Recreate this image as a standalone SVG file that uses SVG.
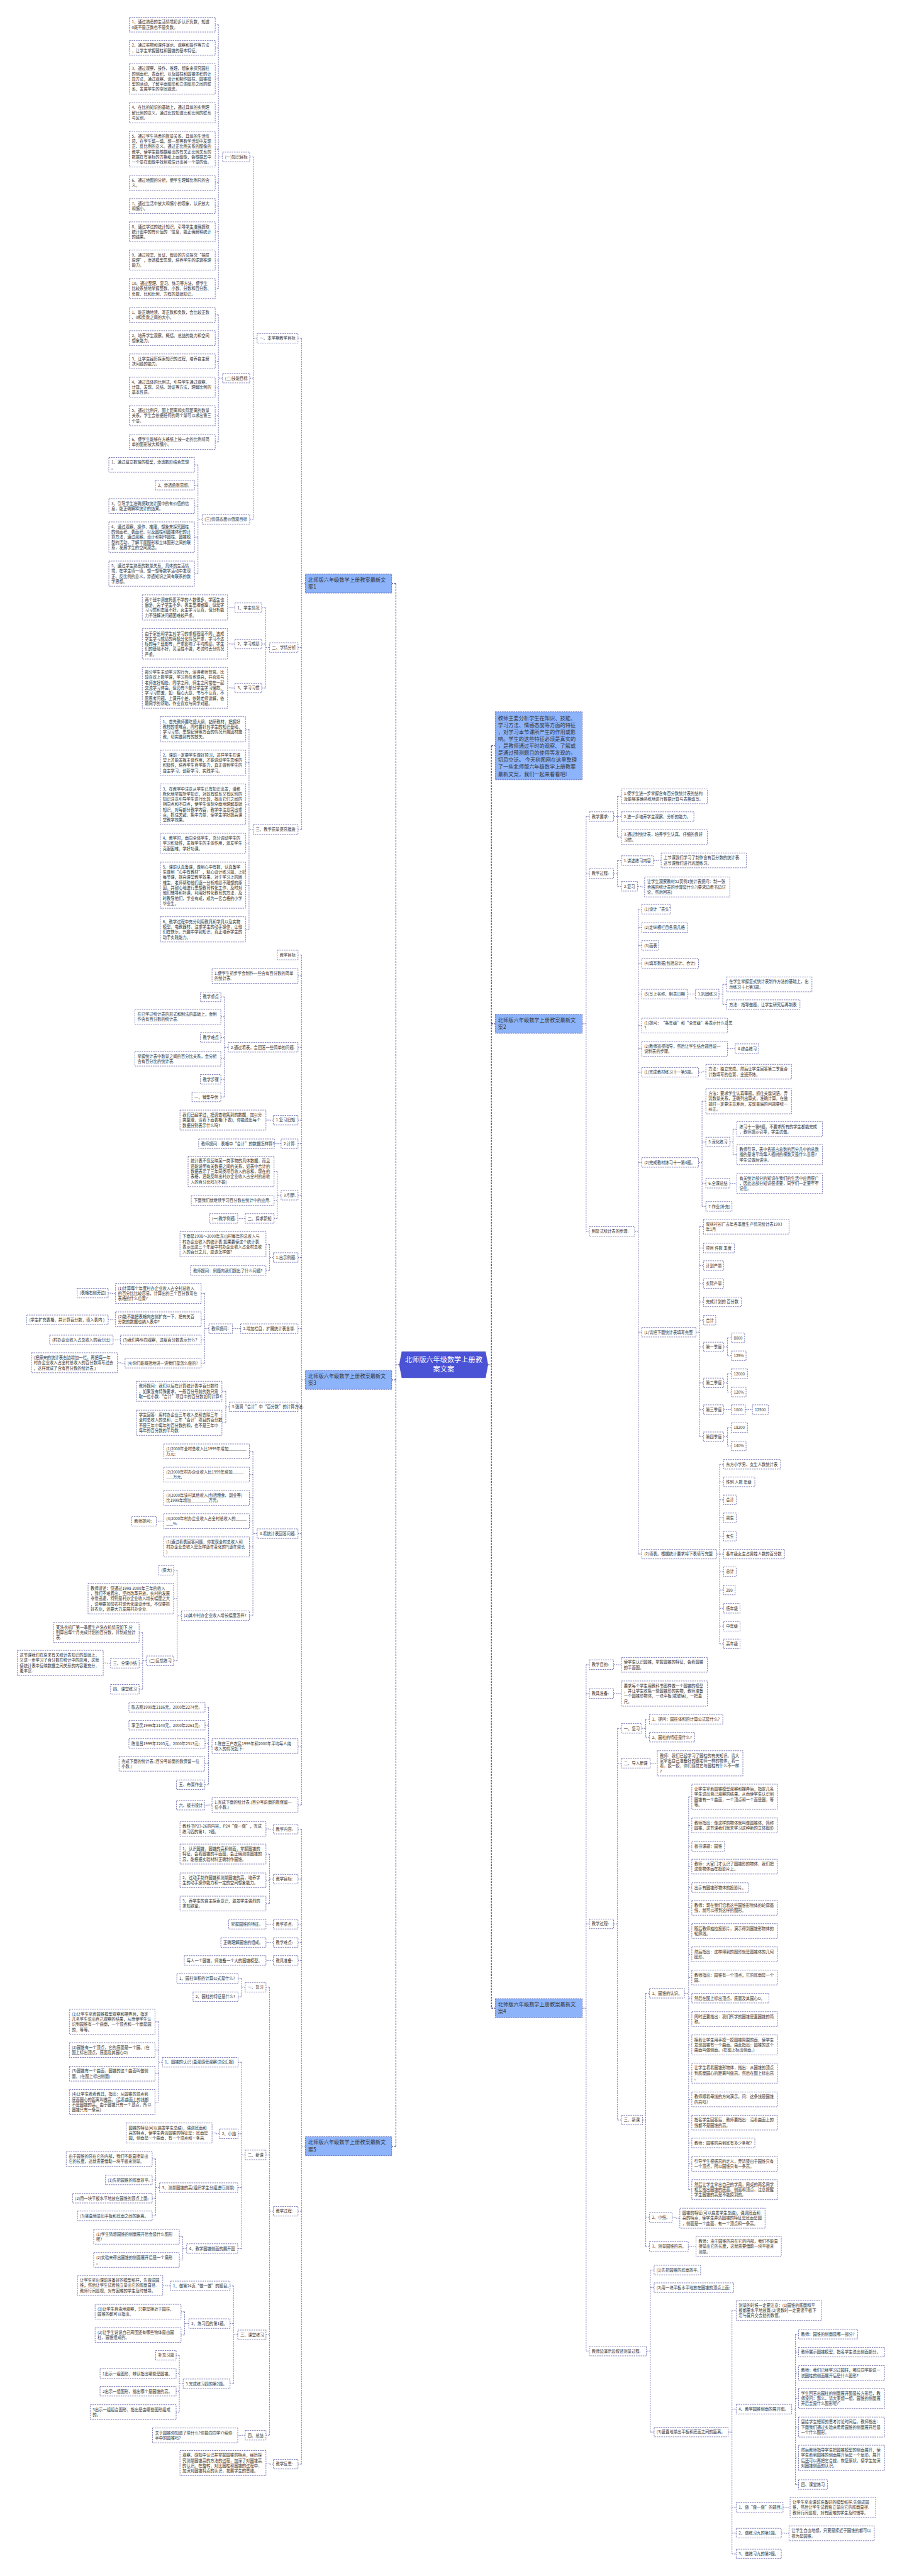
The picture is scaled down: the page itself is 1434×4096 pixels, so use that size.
<svg xmlns="http://www.w3.org/2000/svg" width="1434" height="4096" viewBox="0 0 1434 4096">
<style>
.b{fill:#fff;stroke:#3f3f93;stroke-width:1.2;stroke-dasharray:4 2.5}
.m{fill:#8db4fa;stroke:#3f3f93;stroke-width:1.2;stroke-dasharray:4 2.5}
.t{font-family:"Noto Sans CJK SC","Noto Sans",sans-serif;font-size:11.3px;fill:#333}
.tm{font-family:"Noto Sans CJK SC","Noto Sans",sans-serif;font-size:14.7px;fill:#333}
.tc{font-family:"Noto Sans CJK SC","Noto Sans",sans-serif;font-size:20px;fill:#fff;text-anchor:middle}
.e{fill:none;stroke:#3f3f93;stroke-width:1.2;stroke-dasharray:4 2.5}
.e2{fill:none;stroke:#2e2e80;stroke-width:2;stroke-dasharray:5 3}
</style>
<rect width="1434" height="4096" fill="#fff"/>
<g transform="scale(0.56)">
<g id="connectors">
<path class="e2" d="M1134,3875H1124M1124,1657V6094M1124,1657H1112M1124,3918H1112M1124,6094H1112"/>
<path class="e2" d="M1385,3875H1395M1395,2117.5V5702M1395,2117.5H1406M1395,2907H1406M1395,5702H1406"/>
<path class="e" d="M867,1657H856M856,960.6V2355.6M856,960.6H846M856,1838.6H846M856,2355.6H846"/>
<path class="e" d="M730,960.6H719M719,445.6V1474.6M719,445.6H709M719,1073.6H709M719,1474.6H709"/>
<path class="e" d="M632,445.6H620M620,70V819.4M620,70H611M620,136H611M620,224.2H611M620,320.4H611M620,423.6H611M620,519H611M620,585H611M620,658.4H611M620,738.4H611M620,819.4H611"/>
<path class="e" d="M632,1073.6H620M620,894V1255M620,894H611M620,960H611M620,1026H611M620,1099.4H611M620,1180.4H611M620,1255H611"/>
<path class="e" d="M574,1474.6H562M562,1320V1628.8M562,1320H552M562,1377.6H552M562,1437H552M562,1525.2H552M562,1628.8H552"/>
<path class="e" d="M765,1838.6H754M754,1725.6V1953.6M754,1725.6H743M754,1828.6H743M754,1953.6H743"/>
<path class="e" d="M667,1725.6H656V1724.8H646M667,1828.6H656V1828.2H646M667,1953.6H656V1953H646"/>
<path class="e" d="M719,2355.6H707M707,2070.8V2638.8M707,2070.8H697M707,2165.8H697M707,2284H697M707,2394.4H697M707,2513.4H697M707,2638.8H697"/>
<path class="e" d="M867,3918H856M856,2711.6V5125M856,2711.6H846M856,2771H846M856,2973.6H846M856,3180.6H846M856,3247.6H846M856,3393.6H846M856,3570.6H846M856,3772.6H846M856,3994.6H846M856,4354.6H846M856,4958H846M856,5125H846"/>
<path class="e" d="M648,2973.6H637M637,2830.6V3114.6M637,2830.6H627M637,2887H627M637,2945.6H627M637,3006H627M637,3064.6H627M637,3114.6H627"/>
<path class="e" d="M776,3180.6H765V3180.4H755M798,3247.6H779M696,3459.6H675M683,3772.6H660"/>
<path class="e" d="M798,3393.6H787M787,3326.2V3459.6M787,3326.2H778M787,3408.6H778M787,3459.6H778"/>
<path class="e" d="M776,3570.6H765M765,3532.8V3607.6M765,3532.8H755M765,3607.6H755"/>
<path class="e" d="M593,3772.6H581M581,3672.4V3870.6M581,3672.4H571M581,3746H571M581,3804.6H571M581,3870.6H571"/>
<path class="e" d="M328,3672.4H317V3671.6H307M328,3746H317V3747.6H307M342,3804.6H321M355,3870.6H344V3869.4H333"/>
<path class="e" d="M651,3994.6H641M641,3950.4V4039.8M641,3950.4H630M641,4039.8H630"/>
<path class="e" d="M730,4354.6H718M718,4121V4587.6M718,4121H708M718,4187H708M718,4253H708M718,4319H708M718,4392.4H708M718,4587.6H708"/>
<path class="e" d="M465,4319H455V4319.6H444"/>
<path class="e" d="M515,4587.6H503M503,4458.6V4715.6M503,4458.6H493M503,4539.2H493M503,4715.6H493"/>
<path class="e" d="M416,4715.6H405M405,4635.4V4796.6M405,4635.4H395M405,4722.6H395M405,4796.6H395"/>
<path class="e" d="M314,4722.6H303V4721.8H293"/>
<path class="e" d="M602,4958H592M592,4847.6V5067.6M592,4847.6H582M592,4898.6H582M592,4950.6H582M592,5008H581M592,5067.6H581M602,5125H592V5125.6H581"/>
<path class="e" d="M867,6094H856M856,5193.6V6996.6M856,5193.6H846M856,5335.6H846M856,5463.6H846M856,5515.6H846M856,5566.6H846M856,6278.6H846M856,6996.6H846"/>
<path class="e" d="M776,5193.6H765V5193H755M776,5463.6H755M776,5515.6H755M776,5566.6H755M776,6996.6H765V6993.8H755"/>
<path class="e" d="M776,5335.6H765M765,5264.4V5405M765,5264.4H755M765,5339H755M765,5405H755"/>
<path class="e" d="M776,6278.6H765M765,5642.6V6914.6M765,5642.6H755M765,6118.6H755M765,6629.6H755M765,6914.6H755"/>
<path class="e" d="M696,5642.6H686M686,5617.6V5669.6M686,5617.6H676M686,5669.6H676"/>
<path class="e" d="M696,6118.6H686M686,5855.6V6384.6M686,5855.6H676M686,6058.6H676M686,6211.6H675M686,6384.6H675"/>
<path class="e" d="M461,5855.6H451M451,5740.8V5968.8M451,5740.8H440M451,5821H440M451,5888H440M451,5968.8H440"/>
<path class="e" d="M623,6058.6H613V6056.4H602"/>
<path class="e" d="M453,6211.6H442M442,6130V6291.6M442,6130H432M442,6189.6H432M442,6241.6H432M442,6291.6H432"/>
<path class="e" d="M530,6384.6H519M519,6351V6417M519,6351H509M519,6417H509"/>
<path class="e" d="M675,6629.6H663M663,6490.6V6768.6M663,6490.6H653M663,6597.6H653M663,6768.6H653"/>
<path class="e" d="M484,6490.6H473V6489.4H462M696,6914.6H686V6915H675"/>
<path class="e" d="M536,6597.6H524M524,6564V6630M524,6564H514M524,6630H514"/>
<path class="e" d="M520,6768.6H509M509,6687.6V6849M509,6687.6H500M509,6739.6H500M509,6789.6H500M509,6849H500"/>
<path class="e" d="M1653,2907H1664M1664,2318.6V3496.6M1664,2318.6H1673M1664,2480.6H1673M1664,3496.6H1673"/>
<path class="e" d="M1742,2318.6H1753M1753,2261V2377M1753,2261H1764M1753,2318.6H1764M1753,2377H1764"/>
<path class="e" d="M1742,2480.6H1753M1753,2443.6V2516.6M1753,2443.6H1764M1753,2516.6H1764"/>
<path class="e" d="M1855,2443.6H1866V2443H1877M1810,2516.6H1820V2518.4H1830"/>
<path class="e" d="M1802,3496.6H1812M1812,2581.6V4412.6M1812,2581.6H1822M1812,2633.6H1822M1812,2684.6H1822M1812,2735.6H1822M1812,2822.6H1822M1812,2912H1822M1812,2978H1822M1812,3044.6H1822M1812,3300.6H1822M1812,3782.6H1822M1812,4412.6H1822"/>
<path class="e" d="M1952,2822.6H1974M2065,2978H2076V2977.6H2087M1983,3044.6H1993V3043H2004"/>
<path class="e" d="M2041,2822.6H2052M2052,2795V2852.6M2052,2795H2063M2052,2852.6H2063"/>
<path class="e" d="M1983,3300.6H1993M1993,3126.8V3425.6M1993,3126.8H2004M1993,3242.6H2004M1993,3359.6H2004M1993,3425.6H2004"/>
<path class="e" d="M2072,3242.6H2081M2081,3206V3278.4M2081,3206H2092M2081,3278.4H2092M2072,3359.6H2081V3360.4H2092"/>
<path class="e" d="M1976,3782.6H1986M1986,3483V4079.6M1986,3483H1997M1986,3543.6H1997M1986,3593.6H1997M1986,3644.6H1997M1986,3696.6H1997M1986,3748.6H1997M1986,3824.6H1997M1986,3926.6H1997M1986,4002.6H1997M1986,4079.6H1997"/>
<path class="e" d="M2054,3824.6H2065M2065,3798.6V3849.6M2065,3798.6H2076M2065,3849.6H2076M2054,3926.6H2065M2065,3900.6V3952.6M2065,3900.6H2076M2065,3952.6H2076M2054,4002.6H2076M2116,4002.6H2136M2054,4079.6H2065M2065,4053.6V4105.6M2065,4053.6H2076M2065,4105.6H2076"/>
<path class="e" d="M2034,4412.6H2043M2043,4157.6V4667.6M2043,4157.6H2054M2043,4207.6H2054M2043,4258.6H2054M2043,4309.6H2054M2043,4361.6H2054M2043,4412.6H2054M2043,4462.6H2054M2043,4514.6H2054M2043,4566.6H2054M2043,4617.6H2054M2043,4667.6H2054"/>
<path class="e" d="M1653,5702H1664M1664,4726.6V6675.6M1664,4726.6H1673M1664,4808.6H1673M1664,5462.6H1673M1664,6675.6H1673"/>
<path class="e" d="M1742,4726.6H1753V4727H1764M1742,4808.6H1753V4808.8H1764"/>
<path class="e" d="M1742,5462.6H1753M1753,4907.6V6019.6M1753,4907.6H1764M1753,5006.6H1764M1753,6019.6H1764"/>
<path class="e" d="M1822,4907.6H1833M1833,4881.6V4932.6M1833,4881.6H1844M1833,4932.6H1844M1846,5006.6H1856V5006.8H1866"/>
<path class="e" d="M1824,6019.6H1833M1833,5659.6V6378.6M1833,5659.6H1844M1833,6296.6H1844M1833,6378.6H1844"/>
<path class="e" d="M1943,5659.6H1955M1955,5101.8V6217.4M1955,5101.8H1964M1955,5183H1964M1955,5242.6H1964M1955,5300H1964M1955,5359.6H1964M1955,5417H1964M1955,5483H1964M1955,5549H1964M1955,5615H1964M1955,5673.6H1964M1955,5733H1964M1955,5806.4H1964M1955,5886.4H1964M1955,5961H1964M1955,6027H1964M1955,6084.6H1964M1955,6144H1964M1955,6217.4H1964"/>
<path class="e" d="M1908,6296.6H1919V6298.4H1930M1954,6378.6H1965V6378.4H1976"/>
<path class="e" d="M1835,6675.6H1846M1846,6445.6V6905.6M1846,6445.6H1857M1846,6495.6H1857M1846,6905.6H1857"/>
<path class="e" d="M2067,6905.6H2078M2078,6560.4V7251.6M2078,6560.4H2090M2078,6840.6H2090M2078,7119.6H2090M2078,7192.6H2090M2078,7251.6H2090"/>
<path class="e" d="M2247,6840.6H2258M2258,6627.6V7054.6M2258,6627.6H2267M2258,6678.6H2267M2258,6738H2267M2258,6810.4H2267M2258,6891.4H2267M2258,6978.8H2267M2258,7054.6H2267"/>
<path class="e" d="M2223,7119.6H2233V7119.4H2243M2218,7192.6H2229V7193H2240"/>
</g>

<g id="root"><polygon points="1134,3875 1141,3838 1378,3838 1385,3875 1378,3912 1141,3912" fill="#4a52d6" stroke="#3a40b8" stroke-width="1.2"/><text class="tc"><tspan x="1259.5" y="3868.4">北师版六年级数学上册教</tspan><tspan x="1259.5" y="3895.4">案文案</tspan></text></g>

<g id="A0"><rect class="m" x="867" y="1630" width="245" height="54"/><text class="tm"><tspan x="875" y="1651.3">北师版六年级数学上册教案最新文</tspan><tspan x="875" y="1671.3">案1</tspan></text></g>
<g id="A1"><rect class="b" x="730" y="947" width="116" height="27.2"/><text class="t" x="737" y="964.8">一、本学期教学目标</text></g>
<g id="A1a"><rect class="b" x="632" y="432" width="77" height="27.2"/><text class="t" x="639" y="449.8">(一)知识目标</text></g>
<g id="k1"><rect class="b" x="367" y="49" width="244" height="42"/><text class="t"><tspan x="374" y="66.8">1、通过熟悉的生活情境初步认识负数，知道</tspan><tspan x="374" y="81.6">0既不是正数也不是负数。</tspan></text></g>
<g id="k2"><rect class="b" x="367" y="115" width="244" height="42"/><text class="t"><tspan x="374" y="132.8">2、通过实物和课件演示、观察和操作等方法</tspan><tspan x="374" y="147.6">，让学生掌握圆柱和圆锥的基本特征。</tspan></text></g>
<g id="k3"><rect class="b" x="367" y="181" width="244" height="86.4"/><text class="t"><tspan x="374" y="198.8">3、通过观察、操作、推理、想象来探究圆柱</tspan><tspan x="374" y="213.6">的侧面积、表面积、以及圆柱和圆锥体积的计</tspan><tspan x="374" y="228.4">算方法，通过观察、设计和制作圆柱、圆锥模</tspan><tspan x="374" y="243.2">型的活动，了解平面图形和立体图形之间的联</tspan><tspan x="374" y="258">系，发展学生的空间观念。</tspan></text></g>
<g id="k4"><rect class="b" x="367" y="292" width="244" height="56.8"/><text class="t"><tspan x="374" y="309.8">4、在比的知识的基础上，通过具体的实例理</tspan><tspan x="374" y="324.6">解比例的意义。通过比较知道比和比例的联系</tspan><tspan x="374" y="339.4">与区别。</tspan></text></g>
<g id="k5"><rect class="b" x="367" y="373" width="244" height="101.2"/><text class="t"><tspan x="374" y="390.8">5、通过学生熟悉的数量关系、具体的生活情</tspan><tspan x="374" y="405.6">境，在学生填一填、想一想等数学活动中发现</tspan><tspan x="374" y="420.4">正、反比例的意义。通过正比例关系的图像的</tspan><tspan x="374" y="435.2">教学，使学生能根据给出的有关正比例关系的</tspan><tspan x="374" y="450">数据在有坐标的方格纸上画图像，会根据其中</tspan><tspan x="374" y="464.8">一个量在图像中找到或估计出另一个量的值。</tspan></text></g>
<g id="k6"><rect class="b" x="367" y="498" width="244" height="42"/><text class="t"><tspan x="374" y="515.8">6、通过地图的分析，使学生理解比例尺的含</tspan><tspan x="374" y="530.6">义。</tspan></text></g>
<g id="k7"><rect class="b" x="367" y="564" width="244" height="42"/><text class="t"><tspan x="374" y="581.8">7、通过生活中放大和缩小的现象，认识放大</tspan><tspan x="374" y="596.6">和缩小。</tspan></text></g>
<g id="k8"><rect class="b" x="367" y="630" width="244" height="56.8"/><text class="t"><tspan x="374" y="647.8">8、通过学过的统计知识，引导学生准确提取</tspan><tspan x="374" y="662.6">统计图中的有价值的‘信息，能正确解释统计</tspan><tspan x="374" y="677.4">的结果。</tspan></text></g>
<g id="k9"><rect class="b" x="367" y="710" width="244" height="56.8"/><text class="t"><tspan x="374" y="727.8">9、通过枚举、反证、假设的方法探究“抽屉</tspan><tspan x="374" y="742.6">原理”，渗透模型思想，培养学生的逻辑推理</tspan><tspan x="374" y="757.4">能力。</tspan></text></g>
<g id="k10"><rect class="b" x="367" y="791" width="244" height="56.8"/><text class="t"><tspan x="374" y="808.8">10、通过整理、复习、练习等方法，使学生</tspan><tspan x="374" y="823.6">比较系统地掌握整数、小数、分数和百分数、</tspan><tspan x="374" y="838.4">负数、比和比例、方程的基础知识。</tspan></text></g>
<g id="A1b"><rect class="b" x="632" y="1060" width="77" height="27.2"/><text class="t" x="639" y="1077.8">(二)技能目标</text></g>
<g id="s1"><rect class="b" x="367" y="873" width="244" height="42"/><text class="t"><tspan x="374" y="890.8">1、能正确地读、写正数和负数，会比较正数</tspan><tspan x="374" y="905.6">、0和负数之间的大小。</tspan></text></g>
<g id="s2"><rect class="b" x="367" y="939" width="244" height="42"/><text class="t"><tspan x="374" y="956.8">2、培养学生观察、概括、总结的能力和空间</tspan><tspan x="374" y="971.6">想象能力。</tspan></text></g>
<g id="s3"><rect class="b" x="367" y="1005" width="244" height="42"/><text class="t"><tspan x="374" y="1022.8">3、让学生经历探索知识的过程，培养自主解</tspan><tspan x="374" y="1037.6">决问题的能力。</tspan></text></g>
<g id="s4"><rect class="b" x="367" y="1071" width="244" height="56.8"/><text class="t"><tspan x="374" y="1088.8">4、通过具体的比例式，引导学生通过观察、</tspan><tspan x="374" y="1103.6">计算、发现、总结、验证等方法，理解比例的</tspan><tspan x="374" y="1118.4">基本性质。</tspan></text></g>
<g id="s5"><rect class="b" x="367" y="1152" width="244" height="56.8"/><text class="t"><tspan x="374" y="1169.8">5、通过比例尺、图上距离和实际距离的数量</tspan><tspan x="374" y="1184.6">关系，学生会依据任何的两个量可以求出第三</tspan><tspan x="374" y="1199.4">个量。</tspan></text></g>
<g id="s6"><rect class="b" x="367" y="1234" width="244" height="42"/><text class="t"><tspan x="374" y="1251.8">6、使学生能够在方格纸上按一定的比例将简</tspan><tspan x="374" y="1266.6">单的图形放大和缩小。</tspan></text></g>
<g id="A1c"><rect class="b" x="574" y="1461" width="135" height="27.2"/><text class="t" x="581" y="1478.8">(三)情感态度价值观目标</text></g>
<g id="e1"><rect class="b" x="309" y="1299" width="243" height="42"/><text class="t"><tspan x="316" y="1316.8">1、通过建立数轴的模型，渗透数形结合思想</tspan><tspan x="316" y="1331.6">。</tspan></text></g>
<g id="e2"><rect class="b" x="441" y="1364" width="111" height="27.2"/><text class="t" x="448" y="1381.8">2、渗透函数思想。</text></g>
<g id="e3"><rect class="b" x="309" y="1416" width="243" height="42"/><text class="t"><tspan x="316" y="1433.8">3、引导学生准确提取统计图中的有价值的信</tspan><tspan x="316" y="1448.6">息，能正确解释统计的结果。</tspan></text></g>
<g id="e4"><rect class="b" x="309" y="1482" width="243" height="86.4"/><text class="t"><tspan x="316" y="1499.8">4、通过观察、操作、推理、想象来探究圆柱</tspan><tspan x="316" y="1514.6">的侧面积、表面积、以及圆柱和圆锥体积的计</tspan><tspan x="316" y="1529.4">算方法，通过观察、设计和制作圆柱、圆锥模</tspan><tspan x="316" y="1544.2">型的活动，了解平面图形和立体图形之间的联</tspan><tspan x="316" y="1559">系，发展学生的空间观念。</tspan></text></g>
<g id="e5"><rect class="b" x="309" y="1593" width="243" height="71.6"/><text class="t"><tspan x="316" y="1610.8">5、通过学生熟悉的数量关系、具体的生活情</tspan><tspan x="316" y="1625.6">境，在学生填一填、想一想等数学活动中发现</tspan><tspan x="316" y="1640.4">正、反比例的意义，渗透知识之间有联系的数</tspan><tspan x="316" y="1655.2">学思想。</tspan></text></g>
<g id="A2"><rect class="b" x="765" y="1825" width="81" height="27.2"/><text class="t" x="772" y="1842.8">二、学情分析</text></g>
<g id="A2a"><rect class="b" x="667" y="1712" width="76" height="27.2"/><text class="t" x="674" y="1729.8">1、学生情况</text></g>
<g id="A2a1"><rect class="b" x="404" y="1689" width="242" height="71.6"/><text class="t"><tspan x="411" y="1706.8">两个班中调皮捣蛋不学的人数很多，学困生也</tspan><tspan x="411" y="1721.6">偏多，尖子学生不多。男生思维敏捷，但是学</tspan><tspan x="411" y="1736.4">习习惯和态度不好。女生学习认真，但分析能</tspan><tspan x="411" y="1751.2">力不强解决问题困难较严重。</tspan></text></g>
<g id="A2b"><rect class="b" x="667" y="1815" width="76" height="27.2"/><text class="t" x="674" y="1832.8">2、学习成绩</text></g>
<g id="A2b1"><rect class="b" x="404" y="1785" width="242" height="86.4"/><text class="t"><tspan x="411" y="1802.8">由于家长和学生对学习的重视程度不同，造成</tspan><tspan x="411" y="1817.6">学生学习成绩的两极分化情况严重，学习不达</tspan><tspan x="411" y="1832.4">标的每个班都有，严重影响了平均成绩。学生</tspan><tspan x="411" y="1847.2">们的基础不好，灵活性不强，考试时丢分情况</tspan><tspan x="411" y="1862">严重。</tspan></text></g>
<g id="A2c"><rect class="b" x="667" y="1940" width="76" height="27.2"/><text class="t" x="674" y="1957.8">3、学习习惯</text></g>
<g id="A2c1"><rect class="b" x="404" y="1895" width="242" height="116"/><text class="t"><tspan x="411" y="1912.8">部分学生主动学习的行为，深得老师赞赏。比</tspan><tspan x="411" y="1927.6">较喜欢上数学课，学习热情也很高，并喜欢与</tspan><tspan x="411" y="1942.4">老师友好相处，同学之间、师生之间常在一起</tspan><tspan x="411" y="1957.2">交流学习体会。但仍有少部分学生学习懒散、</tspan><tspan x="411" y="1972">学习习惯差，如：粗心大意、书写不认真，不</tspan><tspan x="411" y="1986.8">愿思考问题，上课开小差，依赖老师讲解，依</tspan><tspan x="411" y="2001.6">赖同学的帮助，作业喜欢与同学对题。</tspan></text></g>
<g id="A3"><rect class="b" x="719" y="2342" width="127" height="27.2"/><text class="t" x="726" y="2359.8">三、教学质量提高措施</text></g>
<g id="q1"><rect class="b" x="455" y="2035" width="242" height="71.6"/><text class="t"><tspan x="462" y="2052.8">1、首先教师要吃透大纲，钻研教材，把握好</tspan><tspan x="462" y="2067.6">教材的重难点，同时要针对学生的知识基础、</tspan><tspan x="462" y="2082.4">学习习惯、思想纪律等方面的情况开展因材施</tspan><tspan x="462" y="2097.2">教，切实做到有的放矢。</tspan></text></g>
<g id="q2"><rect class="b" x="455" y="2130" width="242" height="71.6"/><text class="t"><tspan x="462" y="2147.8">2、课前一定要学生做好预习，这样学生在课</tspan><tspan x="462" y="2162.6">堂上才能发挥主体作用，才能调动学生思维的</tspan><tspan x="462" y="2177.4">积极性，培养学生自学能力，真正做到学生的</tspan><tspan x="462" y="2192.2">自主学习、创新学习、实践学习。</tspan></text></g>
<g id="q3"><rect class="b" x="455" y="2226" width="242" height="116"/><text class="t"><tspan x="462" y="2243.8">3、在教学中注意从学生已有知识出发，潜移</tspan><tspan x="462" y="2258.6">默化地掌握所学知识，对既有联系又有区别的</tspan><tspan x="462" y="2273.4">知识注意引导学生进行比较，找出它们之间的</tspan><tspan x="462" y="2288.2">相同点和不同点，使学生深刻全面地理解基础</tspan><tspan x="462" y="2303">知识，对每部分教学内容，教学中注意突出重</tspan><tspan x="462" y="2317.8">点，抓住关键，集中力量，使学生学好提高课</tspan><tspan x="462" y="2332.6">堂教学效果。</tspan></text></g>
<g id="q4"><rect class="b" x="455" y="2366" width="242" height="56.8"/><text class="t"><tspan x="462" y="2383.8">4、教学时，面向全体学生，充分调动学生的</tspan><tspan x="462" y="2398.6">学习积极性，发挥学生的主体作用，激发学生</tspan><tspan x="462" y="2413.4">克服困难，学好功课。</tspan></text></g>
<g id="q5"><rect class="b" x="455" y="2448" width="242" height="130.8"/><text class="t"><tspan x="462" y="2465.8">5、课前认真备课，做到心中有数，认真备学</tspan><tspan x="462" y="2480.6">生做到“心中有教材”，精心设计练习题，上好</tspan><tspan x="462" y="2495.4">每节课，提高课堂教学效果。对于学习上的困</tspan><tspan x="462" y="2510.2">难生，老师帮助他们逐一分析成绩不理想的原</tspan><tspan x="462" y="2525">因，并耐心地进行思想教育转化工作，及时对</tspan><tspan x="462" y="2539.8">他们辅导和补课，利用好转化教育的方法，及</tspan><tspan x="462" y="2554.6">时教导他们，学业有成，成为一名合格的小学</tspan><tspan x="462" y="2569.4">毕业生。</tspan></text></g>
<g id="q6"><rect class="b" x="455" y="2603" width="242" height="71.6"/><text class="t"><tspan x="462" y="2620.8">6、教学过程中充分利用教具和学具以及实物</tspan><tspan x="462" y="2635.6">模型、电教器材，注重学生的动手操作，让他</tspan><tspan x="462" y="2650.4">们在快乐、兴趣中学到知识，真正培养学生的</tspan><tspan x="462" y="2665.2">动手实践能力。</tspan></text></g>

<g id="B0"><rect class="m" x="867" y="3891" width="245" height="54"/><text class="tm"><tspan x="875" y="3912.3">北师版六年级数学上册教案最新文</tspan><tspan x="875" y="3932.3">案3</tspan></text></g>
<g id="B1"><rect class="b" x="787" y="2698" width="59" height="27.2"/><text class="t" x="794" y="2715.8">教学目标</text></g>
<g id="B2"><rect class="b" x="602" y="2750" width="244" height="42"/><text class="t"><tspan x="609" y="2767.8">1.使学生初步学会制作一些含有百分数的简单</tspan><tspan x="609" y="2782.6">的统计表.</tspan></text></g>
<g id="B3"><rect class="b" x="648" y="2960" width="198" height="27.2"/><text class="t" x="655" y="2977.8">2.通过看表，会回答一些简单的问题.</text></g>
<g id="B3a"><rect class="b" x="569" y="2817" width="58" height="27.2"/><text class="t" x="576" y="2834.8">教学重点</text></g>
<g id="B3b"><rect class="b" x="383" y="2866" width="244" height="42"/><text class="t"><tspan x="390" y="2883.8">在已学过统计表的形式和制法的基础上，会制</tspan><tspan x="390" y="2898.6">作含有百分数的统计表.</tspan></text></g>
<g id="B3c"><rect class="b" x="569" y="2932" width="58" height="27.2"/><text class="t" x="576" y="2949.8">教学难点</text></g>
<g id="B3d"><rect class="b" x="383" y="2985" width="244" height="42"/><text class="t"><tspan x="390" y="3002.8">掌握统计表中数量之间的百分比关系，会分析</tspan><tspan x="390" y="3017.6">含有百分比的统计表.</tspan></text></g>
<g id="B3e"><rect class="b" x="569" y="3051" width="58" height="27.2"/><text class="t" x="576" y="3068.8">教学步骤</text></g>
<g id="B3f"><rect class="b" x="545" y="3101" width="82" height="27.2"/><text class="t" x="552" y="3118.8">一、铺垫孕伏</text></g>
<g id="B4"><rect class="b" x="776" y="3167" width="70" height="27.2"/><text class="t" x="783" y="3184.8">1.复习旧知.</text></g>
<g id="B4a"><rect class="b" x="511" y="3152" width="244" height="56.8"/><text class="t"><tspan x="518" y="3169.8">我们已经学过，把调查收集到的数据，加以分</tspan><tspan x="518" y="3184.6">类整理，请看下面表格(下表)，你能说出每个</tspan><tspan x="518" y="3199.4">数据分别表示什么吗?</tspan></text></g>
<g id="B5"><rect class="b" x="798" y="3234" width="48" height="27.2"/><text class="t" x="805" y="3251.8">2.计算.</text></g>
<g id="B5a"><rect class="b" x="564" y="3234" width="215" height="27.2"/><text class="t" x="571" y="3251.8">教师提问：表格中“合计”的数据怎样算?</text></g>
<g id="B6"><rect class="b" x="798" y="3380" width="48" height="27.2"/><text class="t" x="805" y="3397.8">3.引新.</text></g>
<g id="B6a"><rect class="b" x="534" y="3283" width="244" height="86.4"/><text class="t"><tspan x="541" y="3300.8">统计表不仅反映某一类事物的具体数据，而且</tspan><tspan x="541" y="3315.6">还能说明有关数据之间的关系，如表中合计的</tspan><tspan x="541" y="3330.4">数据表示了三年同类项目收入的总和，现在的</tspan><tspan x="541" y="3345.2">表格，还能反映出村办企业收入占全村的总收</tspan><tspan x="541" y="3360">入的百分比吗?(不能)</tspan></text></g>
<g id="B6b"><rect class="b" x="543" y="3395" width="235" height="27.2"/><text class="t" x="550" y="3412.8">下面我们就继续学习百分数在统计中的应用.</text></g>
<g id="B6c"><rect class="b" x="696" y="3446" width="82" height="27.2"/><text class="t" x="703" y="3463.8">二、探求新知</text></g>
<g id="B6d"><rect class="b" x="595" y="3446" width="80" height="27.2"/><text class="t" x="602" y="3463.8">(一)教学例题.</text></g>
<g id="B7"><rect class="b" x="776" y="3557" width="70" height="27.2"/><text class="t" x="783" y="3574.8">1.出示例题.</text></g>
<g id="B7a"><rect class="b" x="511" y="3497" width="244" height="71.6"/><text class="t"><tspan x="518" y="3514.8">下面是1998～2000年东山村每年的总收入与</tspan><tspan x="518" y="3529.6">村办企业收入的统计表.如果要使这个统计表</tspan><tspan x="518" y="3544.4">表示出这三个年度中村办企业收入占全村总收</tspan><tspan x="518" y="3559.2">入的百分之几，应该怎样做?</tspan></text></g>
<g id="B7b"><rect class="b" x="541" y="3594" width="214" height="27.2"/><text class="t" x="548" y="3611.8">教师提问：例题向我们提出了什么问题?</text></g>
<g id="B8"><rect class="b" x="683" y="3759" width="163" height="27.2"/><text class="t" x="690" y="3776.8">2.增加栏目，扩展统计表含量.</text></g>
<g id="B8a"><rect class="b" x="593" y="3759" width="67" height="27.2"/><text class="t" x="600" y="3776.8">教师提问：</text></g>
<g id="B8b"><rect class="b" x="328" y="3644" width="243" height="56.8"/><text class="t"><tspan x="335" y="3661.8">(1)计算每个年度村办企业收入占全村总收入</tspan><tspan x="335" y="3676.6">的百分比比较容易，计算出的三个百分数写在</tspan><tspan x="335" y="3691.4">表格的什么位置?</tspan></text></g>
<g id="B8b1"><rect class="b" x="219" y="3658" width="88" height="27.2"/><text class="t" x="226" y="3675.8">(表格右侧旁边)</text></g>
<g id="B8c"><rect class="b" x="328" y="3725" width="243" height="42"/><text class="t"><tspan x="335" y="3742.8">(2)能不能把表格向右侧扩充一下，把有关百</tspan><tspan x="335" y="3757.6">分数的数据也纳入表中?</tspan></text></g>
<g id="B8c1"><rect class="b" x="76" y="3734" width="231" height="27.2"/><text class="t" x="83" y="3751.8">(学生扩充表格，并计算百分数，填入表内.)</text></g>
<g id="B8d"><rect class="b" x="342" y="3791" width="229" height="27.2"/><text class="t" x="349" y="3808.8">(3)我们再纵向观察，这组百分数表示什么?</text></g>
<g id="B8d1"><rect class="b" x="141" y="3791" width="180" height="27.2"/><text class="t" x="148" y="3808.8">(村办企业收入占总收入的百分比)</text></g>
<g id="B8e"><rect class="b" x="355" y="3857" width="216" height="27.2"/><text class="t" x="362" y="3874.8">(4)你们能概括地讲一讲我们是怎么做的?</text></g>
<g id="B8e1"><rect class="b" x="89" y="3841" width="244" height="56.8"/><text class="t"><tspan x="96" y="3858.8">(把原来的统计表右边增加一栏，再把每一年</tspan><tspan x="96" y="3873.6">村办企业收入占全村总收入的百分数填写过去</tspan><tspan x="96" y="3888.4">，这样就成了含有百分数的统计表.)</tspan></text></g>
<g id="B9"><rect class="b" x="651" y="3981" width="195" height="27.2"/><text class="t" x="658" y="3998.8">3.强调“合计”中“百分数”的计算方法.</text></g>
<g id="B9a"><rect class="b" x="387" y="3922" width="243" height="56.8"/><text class="t"><tspan x="394" y="3939.8">教师提问：我们以后在计算统计表中百分数时</tspan><tspan x="394" y="3954.6">，如果没有特殊要求，一般百分号前的数只需</tspan><tspan x="394" y="3969.4">取一位小数.“合计”项目中的百分数如何计算?</tspan></text></g>
<g id="B9b"><rect class="b" x="387" y="4004" width="243" height="71.6"/><text class="t"><tspan x="394" y="4021.8">学生回答：用村办企业三年收入总和去除三年</tspan><tspan x="394" y="4036.6">全村总收入的总和，三年“合计”项目的百分数</tspan><tspan x="394" y="4051.4">不是三年中每年的百分数的和，也不是三年中</tspan><tspan x="394" y="4066.2">每年的百分数的平均数.</tspan></text></g>
<g id="B10"><rect class="b" x="730" y="4341" width="116" height="27.2"/><text class="t" x="737" y="4358.8">4.看统计表回答问题.</text></g>
<g id="B10a"><rect class="b" x="465" y="4100" width="243" height="42"/><text class="t"><tspan x="472" y="4117.8">(1)2000年全村总收入比1999年增加________</tspan><tspan x="472" y="4132.6">万元;</tspan></text></g>
<g id="B10b"><rect class="b" x="465" y="4166" width="243" height="42"/><text class="t"><tspan x="472" y="4183.8">(2)2000年村办企业收入比1999年增加_____</tspan><tspan x="472" y="4198.6">___万元;</tspan></text></g>
<g id="B10c"><rect class="b" x="465" y="4232" width="243" height="42"/><text class="t"><tspan x="472" y="4249.8">(3)2000年该村其他收入(包括粮食、副业等)</tspan><tspan x="472" y="4264.6">比1999年增加________万元;</tspan></text></g>
<g id="B10d"><rect class="b" x="465" y="4298" width="243" height="42"/><text class="t"><tspan x="472" y="4315.8">(4)2000年村办企业收入占全村总收入的_____</tspan><tspan x="472" y="4330.6">___%.</tspan></text></g>
<g id="B10d1"><rect class="b" x="374" y="4306" width="70" height="27.2"/><text class="t" x="381" y="4323.8">教师提问：</text></g>
<g id="B10e"><rect class="b" x="465" y="4364" width="243" height="56.8"/><text class="t"><tspan x="472" y="4381.8">(1)通过看表回答问题，你发现全村总收入和</tspan><tspan x="472" y="4396.6">村办企业总收入是怎样逐年变化的?(逐年增长</tspan><tspan x="472" y="4411.4">)</tspan></text></g>
<g id="B10f"><rect class="b" x="515" y="4574" width="193" height="27.2"/><text class="t" x="522" y="4591.8">(2)其中村办企业收入增长幅度怎样?</text></g>
<g id="B10f1"><rect class="b" x="451" y="4445" width="42" height="27.2"/><text class="t" x="458" y="4462.8">(很大)</text></g>
<g id="B10f2"><rect class="b" x="250" y="4496" width="243" height="86.4"/><text class="t"><tspan x="257" y="4513.8">教师讲述：仅通过1998-2000年三年的收入</tspan><tspan x="257" y="4528.6">，我们不难看出，坚持改革开放，农村的发展</tspan><tspan x="257" y="4543.4">非常迅速，特别是村办企业收入增长幅度之大</tspan><tspan x="257" y="4558.2">，说明要加快农村现代化建设步伐，不仅要抓</tspan><tspan x="257" y="4573">好农业，还要大力发展村办企业.</tspan></text></g>
<g id="B10f3"><rect class="b" x="416" y="4702" width="77" height="27.2"/><text class="t" x="423" y="4719.8">(二)反馈练习</text></g>
<g id="B10g1"><rect class="b" x="152" y="4607" width="243" height="56.8"/><text class="t"><tspan x="159" y="4624.8">某洗衣机厂第一季度生产洗衣机情况如下.分</tspan><tspan x="159" y="4639.6">别算出每个月完成计划的百分数，并制成统计</tspan><tspan x="159" y="4654.4">表.</tspan></text></g>
<g id="B10g2"><rect class="b" x="314" y="4709" width="81" height="27.2"/><text class="t" x="321" y="4726.8">三、全课小结</text></g>
<g id="B10g2a"><rect class="b" x="49" y="4686" width="244" height="71.6"/><text class="t"><tspan x="56" y="4703.8">这节课我们在原来有关统计表知识的基础上，</tspan><tspan x="56" y="4718.6">又进一步学习了百分数在统计中的应用，这就</tspan><tspan x="56" y="4733.4">使统计表中反映数据之间关系的内容更充分，</tspan><tspan x="56" y="4748.2">更丰富.</tspan></text></g>
<g id="B10g3"><rect class="b" x="314" y="4783" width="81" height="27.2"/><text class="t" x="321" y="4800.8">四、课堂练习</text></g>
<g id="B11"><rect class="b" x="602" y="4937" width="244" height="42"/><text class="t"><tspan x="609" y="4954.8">1.陈庄三户农民1999年和2000年平均每人纯</tspan><tspan x="609" y="4969.6">收入的情况如下:</tspan></text></g>
<g id="B11a"><rect class="b" x="366" y="4834" width="216" height="27.2"/><text class="t" x="373" y="4851.8">陈志刚1999年2186元，2000年2274元;</text></g>
<g id="B11b"><rect class="b" x="366" y="4885" width="216" height="27.2"/><text class="t" x="373" y="4902.8">李卫民1999年2140元，2000年2261元;</text></g>
<g id="B11c"><rect class="b" x="366" y="4937" width="216" height="27.2"/><text class="t" x="373" y="4954.8">陈世昌1999年2205元，2000年2313元;</text></g>
<g id="B11d"><rect class="b" x="338" y="4987" width="243" height="42"/><text class="t"><tspan x="345" y="5004.8">完成下面的统计表.(百分号前面的数保留一位</tspan><tspan x="345" y="5019.6">小数.)</tspan></text></g>
<g id="B11e"><rect class="b" x="501" y="5054" width="80" height="27.2"/><text class="t" x="508" y="5071.8">五、布置作业</text></g>
<g id="B12"><rect class="b" x="602" y="5104" width="244" height="42"/><text class="t"><tspan x="609" y="5121.8">1.完成下面的统计表.(百分号前面的数保留一</tspan><tspan x="609" y="5136.6">位小数.)</tspan></text></g>
<g id="B12a"><rect class="b" x="501" y="5112" width="80" height="27.2"/><text class="t" x="508" y="5129.8">六、板书设计</text></g>

<g id="C0"><rect class="m" x="867" y="6067" width="245" height="54"/><text class="tm"><tspan x="875" y="6088.3">北师版六年级数学上册教案最新文</tspan><tspan x="875" y="6108.3">案5</tspan></text></g>
<g id="C1"><rect class="b" x="776" y="5180" width="70" height="27.2"/><text class="t" x="783" y="5197.8">教学内容:</text></g>
<g id="C1a"><rect class="b" x="511" y="5172" width="244" height="42"/><text class="t"><tspan x="518" y="5189.8">教科书P23-26的内容，P24“做一做”，完成</tspan><tspan x="518" y="5204.6">练习四的第1、2题。</tspan></text></g>
<g id="C2"><rect class="b" x="776" y="5322" width="70" height="27.2"/><text class="t" x="783" y="5339.8">教学目标:</text></g>
<g id="C2a"><rect class="b" x="511" y="5236" width="244" height="56.8"/><text class="t"><tspan x="518" y="5253.8">1、认识圆锥，圆锥的高和侧面，掌握圆锥的</tspan><tspan x="518" y="5268.6">特征，会看圆锥的平面图，会正确测量圆锥的</tspan><tspan x="518" y="5283.4">高，能根据实验材料正确制作圆锥。</tspan></text></g>
<g id="C2b"><rect class="b" x="511" y="5318" width="244" height="42"/><text class="t"><tspan x="518" y="5335.8">2、过动手制作圆锥和测量圆锥的高，培养学</tspan><tspan x="518" y="5350.6">生的动手操作能力和一定的空间想象能力。</tspan></text></g>
<g id="C2c"><rect class="b" x="511" y="5384" width="244" height="42"/><text class="t"><tspan x="518" y="5401.8">3、养学生的自主探索意识，激发学生强烈的</tspan><tspan x="518" y="5416.6">求知欲望。</tspan></text></g>
<g id="C3"><rect class="b" x="776" y="5450" width="70" height="27.2"/><text class="t" x="783" y="5467.8">教学重点:</text></g>
<g id="C3a"><rect class="b" x="649" y="5450" width="106" height="27.2"/><text class="t" x="656" y="5467.8">掌握圆锥的特征。</text></g>
<g id="C4"><rect class="b" x="776" y="5502" width="70" height="27.2"/><text class="t" x="783" y="5519.8">教学难点:</text></g>
<g id="C4a"><rect class="b" x="627" y="5502" width="128" height="27.2"/><text class="t" x="634" y="5519.8">正确理解圆锥的组成。</text></g>
<g id="C5"><rect class="b" x="776" y="5553" width="70" height="27.2"/><text class="t" x="783" y="5570.8">教具准备:</text></g>
<g id="C5a"><rect class="b" x="523" y="5553" width="232" height="27.2"/><text class="t" x="530" y="5570.8">每人一个圆锥，师准备一个大的圆锥模型。</text></g>
<g id="C6"><rect class="b" x="776" y="6265" width="70" height="27.2"/><text class="t" x="783" y="6282.8">教学过程:</text></g>
<g id="C6a"><rect class="b" x="696" y="5629" width="59" height="27.2"/><text class="t" x="703" y="5646.8">一、复习</text></g>
<g id="C6a1"><rect class="b" x="502" y="5604" width="174" height="27.2"/><text class="t" x="509" y="5621.8">1、圆柱体积的计算公式是什么?</text></g>
<g id="C6a2"><rect class="b" x="548" y="5656" width="128" height="27.2"/><text class="t" x="555" y="5673.8">2、圆柱的特征是什么?</text></g>
<g id="C6b"><rect class="b" x="696" y="6105" width="59" height="27.2"/><text class="t" x="703" y="6122.8">二、新课</text></g>
<g id="C6b1"><rect class="b" x="461" y="5842" width="215" height="27.2"/><text class="t" x="468" y="5859.8">1、圆锥的认识 (直观感受观察讨论汇报)</text></g>
<g id="C6b1a"><rect class="b" x="197" y="5705" width="243" height="71.6"/><text class="t"><tspan x="204" y="5722.8">(1)让学生拿着圆锥模型观察和摆弄后，指定</tspan><tspan x="204" y="5737.6">几名学生说出自己观察的结果，从而使学生认</tspan><tspan x="204" y="5752.4">识到圆锥有一个曲面，一个顶点和一个面是圆</tspan><tspan x="204" y="5767.2">的，等等。</tspan></text></g>
<g id="C6b1b"><rect class="b" x="197" y="5800" width="243" height="42"/><text class="t"><tspan x="204" y="5817.8">(2)圆锥有一个顶点，它的底面是一个圆、(在</tspan><tspan x="204" y="5832.6">图上标出顶点，底面及其圆心O)</tspan></text></g>
<g id="C6b1c"><rect class="b" x="197" y="5867" width="243" height="42"/><text class="t"><tspan x="204" y="5884.8">(3)圆锥有一个曲面，圆锥的这个曲面叫做侧</tspan><tspan x="204" y="5899.6">面。(在图上标出侧面)</tspan></text></g>
<g id="C6b1d"><rect class="b" x="197" y="5933" width="243" height="71.6"/><text class="t"><tspan x="204" y="5950.8">(4)让学生看着教具，指出：从圆锥的顶点到</tspan><tspan x="204" y="5965.6">底面圆心的距离叫做高。(沿着曲面上的线都</tspan><tspan x="204" y="5980.4">不是圆锥的高，由于圆锥只有一个顶点，所以</tspan><tspan x="204" y="5995.2">圆锥只有一条高)</tspan></text></g>
<g id="C6b2"><rect class="b" x="623" y="6045" width="53" height="27.2"/><text class="t" x="630" y="6062.8">2、小结</text></g>
<g id="C6b2a"><rect class="b" x="358" y="6028" width="244" height="56.8"/><text class="t"><tspan x="365" y="6045.8">圆锥的特征(可以启发学生总结)，强调底面和</tspan><tspan x="365" y="6060.6">高的特点，使学生弄清圆锥的特征是：底面是</tspan><tspan x="365" y="6075.4">圆，侧面是一个曲面，有一个顶点和一条高.</tspan></text></g>
<g id="C6b3"><rect class="b" x="453" y="6198" width="222" height="27.2"/><text class="t" x="460" y="6215.8">3、测量圆锥的高(组织学生分组进行测量)</text></g>
<g id="C6b3a"><rect class="b" x="188" y="6109" width="244" height="42"/><text class="t"><tspan x="195" y="6126.8">由于圆锥的高在它的内部，我们不能直接量出</tspan><tspan x="195" y="6141.6">它的长度，这就需要借助一块平板来测量。</tspan></text></g>
<g id="C6b3b"><rect class="b" x="299" y="6176" width="133" height="27.2"/><text class="t" x="306" y="6193.8">(1)先把圆锥的底面放平;</text></g>
<g id="C6b3c"><rect class="b" x="206" y="6228" width="226" height="27.2"/><text class="t" x="213" y="6245.8">(2)用一块平板水平地放在圆锥的顶点上面;</text></g>
<g id="C6b3d"><rect class="b" x="220" y="6278" width="212" height="27.2"/><text class="t" x="227" y="6295.8">(3)竖直地量出平板和底面之间的距离。</text></g>
<g id="C6b4"><rect class="b" x="530" y="6371" width="145" height="27.2"/><text class="t" x="537" y="6388.8">4、教学圆锥侧面的展开图</text></g>
<g id="C6b4a"><rect class="b" x="266" y="6330" width="243" height="42"/><text class="t"><tspan x="273" y="6347.8">(1)学生猜想圆锥的侧面展开后会是什么图形</tspan><tspan x="273" y="6362.6">呢?</tspan></text></g>
<g id="C6b4b"><rect class="b" x="266" y="6396" width="243" height="42"/><text class="t"><tspan x="273" y="6413.8">(2)实验来得出圆锥的侧面展开后是一个扇形</tspan><tspan x="273" y="6428.6">。</tspan></text></g>
<g id="C6c"><rect class="b" x="675" y="6616" width="80" height="27.2"/><text class="t" x="682" y="6633.8">三、课堂练习</text></g>
<g id="C6c1"><rect class="b" x="484" y="6477" width="169" height="27.2"/><text class="t" x="491" y="6494.8">1、做第24页“做一做”的题目。</text></g>
<g id="C6c1a"><rect class="b" x="220" y="6461" width="242" height="56.8"/><text class="t"><tspan x="227" y="6478.8">让学生拿出课前准备好的模型纸样，先做成圆</tspan><tspan x="227" y="6493.6">锥，然后让学生试着独立量出它的底面直径.</tspan><tspan x="227" y="6508.4">教师行间巡视，对有困难的学生及时辅导。</tspan></text></g>
<g id="C6c2"><rect class="b" x="536" y="6584" width="117" height="27.2"/><text class="t" x="543" y="6601.8">2、练习四的第1题。</text></g>
<g id="C6c2a"><rect class="b" x="270" y="6543" width="244" height="42"/><text class="t"><tspan x="277" y="6560.8">(1)让学生自由地观察，只要是接近于圆柱、</tspan><tspan x="277" y="6575.6">圆锥的都可以指出。</tspan></text></g>
<g id="C6c2b"><rect class="b" x="270" y="6609" width="244" height="42"/><text class="t"><tspan x="277" y="6626.8">(2)让学生说说自己周围还有哪些物体是由圆</tspan><tspan x="277" y="6641.6">柱、圆锥组成的。</tspan></text></g>
<g id="C6c3"><rect class="b" x="520" y="6755" width="133" height="27.2"/><text class="t" x="527" y="6772.8">3.完成练习四的第2题。</text></g>
<g id="C6c3a"><rect class="b" x="442" y="6674" width="58" height="27.2"/><text class="t" x="449" y="6691.8">补充习题</text></g>
<g id="C6c3b"><rect class="b" x="284" y="6726" width="216" height="27.2"/><text class="t" x="291" y="6743.8">1出示一组图形，辨认指出哪些是圆锥。</text></g>
<g id="C6c3c"><rect class="b" x="284" y="6776" width="216" height="27.2"/><text class="t" x="291" y="6793.8">2出示一组图形，指出哪个是圆锥的高。</text></g>
<g id="C6c3d"><rect class="b" x="256" y="6828" width="244" height="42"/><text class="t"><tspan x="263" y="6845.8">3出示一组组合图形，指出是由哪些图形组成</tspan><tspan x="263" y="6860.6">的。</tspan></text></g>
<g id="C6d"><rect class="b" x="696" y="6901" width="59" height="27.2"/><text class="t" x="703" y="6918.8">四、总结</text></g>
<g id="C6d1"><rect class="b" x="433" y="6894" width="242" height="42"/><text class="t"><tspan x="440" y="6911.8">关于圆锥你知道了些什么?你能向同学介绍你</tspan><tspan x="440" y="6926.6">手中的圆锥吗?</tspan></text></g>
<g id="C7"><rect class="b" x="776" y="6983" width="70" height="27.2"/><text class="t" x="783" y="7000.8">教学反思:</text></g>
<g id="C7a"><rect class="b" x="511" y="6958" width="244" height="71.6"/><text class="t"><tspan x="518" y="6975.8">观察、感知中认识并掌握圆锥的特点，经历探</tspan><tspan x="518" y="6990.6">究测量圆锥高的方法的过程，加深了对圆锥高</tspan><tspan x="518" y="7005.4">的认识。在旋转，对比圆柱和圆锥的过程中，</tspan><tspan x="518" y="7020.2">加深对圆锥特点的认识，发展学生的思维。</tspan></text></g>

<g id="R0"><rect class="m" x="1406" y="2021" width="247" height="193"/><text class="tm"><tspan x="1414" y="2044.3">教师主要分析学生在知识、技能、</tspan><tspan x="1414" y="2064.1">学习方法、情感态度等方面的特征</tspan><tspan x="1414" y="2083.9">，对学习本节课所产生的作用或影</tspan><tspan x="1414" y="2103.7">响。学生的这些特征必须是真实的</tspan><tspan x="1414" y="2123.5">，是教师通过平时的观察、了解或</tspan><tspan x="1414" y="2143.3">是通过预测题目的使用等发现的，</tspan><tspan x="1414" y="2163.1">切忌空泛。 今天树图网在这里整理</tspan><tspan x="1414" y="2182.9">了一些北师版六年级数学上册教案</tspan><tspan x="1414" y="2202.7">最新文案，我们一起来看看吧!</tspan></text></g>

<g id="D0"><rect class="m" x="1406" y="2880" width="247" height="54"/><text class="tm"><tspan x="1414" y="2901.3">北师版六年级数学上册教案最新文</tspan><tspan x="1414" y="2921.3">案2</tspan></text></g>
<g id="D1"><rect class="b" x="1673" y="2305" width="69" height="27.2"/><text class="t" x="1680" y="2322.8">教学要求:</text></g>
<g id="D1a"><rect class="b" x="1764" y="2240" width="244" height="42"/><text class="t"><tspan x="1771" y="2257.8">1.使学生进一步掌握含有百分数统计表的结构</tspan><tspan x="1771" y="2272.6">及能够准确熟练地进行数据计算与表格填写。</tspan></text></g>
<g id="D1b"><rect class="b" x="1764" y="2305" width="206" height="27.2"/><text class="t" x="1771" y="2322.8">2.进一步培养学生观察、分析的能力。</text></g>
<g id="D1c"><rect class="b" x="1764" y="2356" width="244" height="42"/><text class="t"><tspan x="1771" y="2373.8">3.通过制统计表，培养学生认真、仔细的良好</tspan><tspan x="1771" y="2388.6">习惯。</tspan></text></g>
<g id="D2"><rect class="b" x="1673" y="2467" width="69" height="27.2"/><text class="t" x="1680" y="2484.8">教学过程:</text></g>
<g id="D2a"><rect class="b" x="1764" y="2430" width="91" height="27.2"/><text class="t" x="1771" y="2447.8">1.讲述练习内容</text></g>
<g id="D2a1"><rect class="b" x="1877" y="2422" width="242" height="42"/><text class="t"><tspan x="1884" y="2439.8">上节课我们学习了制作含有百分数的统计表.</tspan><tspan x="1884" y="2454.6">这节课我们进行巩固练习。</tspan></text></g>
<g id="D2b"><rect class="b" x="1764" y="2503" width="46" height="27.2"/><text class="t" x="1771" y="2520.8">2.复习</text></g>
<g id="D2b1"><rect class="b" x="1830" y="2490" width="242" height="56.8"/><text class="t"><tspan x="1837" y="2507.8">让学生观察教材52页例1统计表提问：制一张</tspan><tspan x="1837" y="2522.6">合格的统计表的步骤是什么?(要求边看书边讨</tspan><tspan x="1837" y="2537.4">论，然后回答)</tspan></text></g>
<g id="D3"><rect class="b" x="1673" y="3483" width="129" height="27.2"/><text class="t" x="1680" y="3500.8">制复式统计表的步骤:</text></g>
<g id="D3a"><rect class="b" x="1822" y="2568" width="82" height="27.2"/><text class="t" x="1829" y="2585.8">(1)设计“表头”</text></g>
<g id="D3b"><rect class="b" x="1822" y="2620" width="130" height="27.2"/><text class="t" x="1829" y="2637.8">(2)定纵横栏目各需几格</text></g>
<g id="D3c"><rect class="b" x="1822" y="2671" width="48" height="27.2"/><text class="t" x="1829" y="2688.8">(3)画表</text></g>
<g id="D3d"><rect class="b" x="1822" y="2722" width="161" height="27.2"/><text class="t" x="1829" y="2739.8">(4)填写数据(包括总计、合计)</text></g>
<g id="D3e"><rect class="b" x="1822" y="2809" width="130" height="27.2"/><text class="t" x="1829" y="2826.8">(5)写上名称、制表日期</text></g>
<g id="D3e1"><rect class="b" x="1974" y="2809" width="67" height="27.2"/><text class="t" x="1981" y="2826.8">3.巩固练习</text></g>
<g id="D3e1a"><rect class="b" x="2063" y="2774" width="242" height="42"/><text class="t"><tspan x="2070" y="2791.8">在学生掌握复式统计表制作方法的基础上，出</tspan><tspan x="2070" y="2806.6">示练习十七第3题。</tspan></text></g>
<g id="D3e1b"><rect class="b" x="2063" y="2839" width="208" height="27.2"/><text class="t" x="2070" y="2856.8">方法：指导做题，让学生研究后再制表</text></g>
<g id="D3f"><rect class="b" x="1822" y="2891" width="243" height="42"/><text class="t"><tspan x="1829" y="2908.8">(1)提问：“各年级”和“全年级”各表示什么意思</tspan><tspan x="1829" y="2923.6">?</tspan></text></g>
<g id="D3g"><rect class="b" x="1822" y="2957" width="243" height="42"/><text class="t"><tspan x="1829" y="2974.8">(2)教师巡视指导，然后让学生结合题目说一</tspan><tspan x="1829" y="2989.6">说制表的步骤。</tspan></text></g>
<g id="D3g1"><rect class="b" x="2087" y="2964" width="67" height="27.2"/><text class="t" x="2094" y="2981.8">4.综合练习</text></g>
<g id="D3h"><rect class="b" x="1822" y="3031" width="161" height="27.2"/><text class="t" x="1829" y="3048.8">(1)完成教材练习十一第5题。</text></g>
<g id="D3h1"><rect class="b" x="2004" y="3022" width="243" height="42"/><text class="t"><tspan x="2011" y="3039.8">方法：独立完成。然后让学生回答第二季度合</tspan><tspan x="2011" y="3054.6">计数填写的位置，全班齐练。</tspan></text></g>
<g id="D3i"><rect class="b" x="1822" y="3287" width="161" height="27.2"/><text class="t" x="1829" y="3304.8">(2)完成教材练习十一第4题。</text></g>
<g id="D3i1"><rect class="b" x="2004" y="3091" width="243" height="71.6"/><text class="t"><tspan x="2011" y="3108.8">方法：要求学生认真审题，抓住关键词语，弄</tspan><tspan x="2011" y="3123.6">清数量关系，正确列出算式，准确计算。在做</tspan><tspan x="2011" y="3138.4">题时一定要注意差后，发现普遍的问题要统一</tspan><tspan x="2011" y="3153.2">纠正。</tspan></text></g>
<g id="D3i2"><rect class="b" x="2004" y="3229" width="68" height="27.2"/><text class="t" x="2011" y="3246.8">5.深化练习</text></g>
<g id="D3i2a"><rect class="b" x="2092" y="3185" width="243" height="42"/><text class="t"><tspan x="2099" y="3202.8">练习十一第6题，不要求所有的学生都能完成</tspan><tspan x="2099" y="3217.6">，教师提示引导，学生试做。</tspan></text></g>
<g id="D3i2b"><rect class="b" x="2092" y="3250" width="243" height="56.8"/><text class="t"><tspan x="2099" y="3267.8">教师引导，表中各班占总数的百分几中的总数</tspan><tspan x="2099" y="3282.6">指的是谁平均每人植树的棵数又是什么意思?</tspan><tspan x="2099" y="3297.4">学生试做后讲评。</tspan></text></g>
<g id="D3i3"><rect class="b" x="2004" y="3346" width="68" height="27.2"/><text class="t" x="2011" y="3363.8">6.全课总结</text></g>
<g id="D3i3a"><rect class="b" x="2092" y="3332" width="243" height="56.8"/><text class="t"><tspan x="2099" y="3349.8">有关统计部分的知识在我们的生活中应用很广</tspan><tspan x="2099" y="3364.6">，因此这部分知识很重要，同学们一定要牢牢</tspan><tspan x="2099" y="3379.4">记住。</tspan></text></g>
<g id="D3i4"><rect class="b" x="2004" y="3412" width="74" height="27.2"/><text class="t" x="2011" y="3429.8">7.作业(补充)</text></g>
<g id="D3j"><rect class="b" x="1822" y="3769" width="154" height="27.2"/><text class="t" x="1829" y="3786.8">(1)请把下面统计表填写完整</text></g>
<g id="D3j1"><rect class="b" x="1997" y="3462" width="243" height="42"/><text class="t"><tspan x="2004" y="3479.8">双林衬衫厂去年各季度生产情况统计表1993</tspan><tspan x="2004" y="3494.6">年1月</tspan></text></g>
<g id="D3j2"><rect class="b" x="1997" y="3530" width="88" height="27.2"/><text class="t" x="2004" y="3547.8">项目 件数 季度</text></g>
<g id="D3j3"><rect class="b" x="1997" y="3580" width="57" height="27.2"/><text class="t" x="2004" y="3597.8">计划产量</text></g>
<g id="D3j4"><rect class="b" x="1997" y="3631" width="57" height="27.2"/><text class="t" x="2004" y="3648.8">实际产量</text></g>
<g id="D3j5"><rect class="b" x="1997" y="3683" width="108" height="27.2"/><text class="t" x="2004" y="3700.8">完成计划的 百分数</text></g>
<g id="D3j6"><rect class="b" x="1997" y="3735" width="35" height="27.2"/><text class="t" x="2004" y="3752.8">合计</text></g>
<g id="D3j7"><rect class="b" x="1997" y="3811" width="57" height="27.2"/><text class="t" x="2004" y="3828.8">第一季度</text></g>
<g id="D3j7a"><rect class="b" x="2076" y="3785" width="38" height="27.2"/><text class="t" x="2083" y="3802.8">8000</text></g>
<g id="D3j7b"><rect class="b" x="2076" y="3836" width="42" height="27.2"/><text class="t" x="2083" y="3853.8">125%</text></g>
<g id="D3j8"><rect class="b" x="1997" y="3913" width="57" height="27.2"/><text class="t" x="2004" y="3930.8">第二季度</text></g>
<g id="D3j8a"><rect class="b" x="2076" y="3887" width="46" height="27.2"/><text class="t" x="2083" y="3904.8">12000</text></g>
<g id="D3j8b"><rect class="b" x="2076" y="3939" width="42" height="27.2"/><text class="t" x="2083" y="3956.8">120%</text></g>
<g id="D3j9"><rect class="b" x="1997" y="3989" width="57" height="27.2"/><text class="t" x="2004" y="4006.8">第三季度</text></g>
<g id="D3j9a"><rect class="b" x="2076" y="3989" width="40" height="27.2"/><text class="t" x="2083" y="4006.8">1000</text></g>
<g id="D3j9b"><rect class="b" x="2136" y="3989" width="45" height="27.2"/><text class="t" x="2143" y="4006.8">12500</text></g>
<g id="D3j10"><rect class="b" x="1997" y="4066" width="57" height="27.2"/><text class="t" x="2004" y="4083.8">第四季度</text></g>
<g id="D3j10a"><rect class="b" x="2076" y="4040" width="46" height="27.2"/><text class="t" x="2083" y="4057.8">18200</text></g>
<g id="D3j10b"><rect class="b" x="2076" y="4092" width="42" height="27.2"/><text class="t" x="2083" y="4109.8">140%</text></g>
<g id="D3k"><rect class="b" x="1822" y="4399" width="212" height="27.2"/><text class="t" x="1829" y="4416.8">(2)填表。根据统计要求将下表填写完整</text></g>
<g id="D3k1"><rect class="b" x="2054" y="4144" width="162" height="27.2"/><text class="t" x="2061" y="4161.8">东方小学男、女生人数统计表</text></g>
<g id="D3k2"><rect class="b" x="2054" y="4194" width="89" height="27.2"/><text class="t" x="2061" y="4211.8">性别 人数 年级</text></g>
<g id="D3k3"><rect class="b" x="2054" y="4245" width="36" height="27.2"/><text class="t" x="2061" y="4262.8">合计</text></g>
<g id="D3k4"><rect class="b" x="2054" y="4296" width="36" height="27.2"/><text class="t" x="2061" y="4313.8">男生</text></g>
<g id="D3k5"><rect class="b" x="2054" y="4348" width="36" height="27.2"/><text class="t" x="2061" y="4365.8">女生</text></g>
<g id="D3k6"><rect class="b" x="2054" y="4399" width="173" height="27.2"/><text class="t" x="2061" y="4416.8">各年级女生占男姓人数的百分数</text></g>
<g id="D3k7"><rect class="b" x="2054" y="4449" width="36" height="27.2"/><text class="t" x="2061" y="4466.8">总计</text></g>
<g id="D3k8"><rect class="b" x="2054" y="4501" width="33" height="27.2"/><text class="t" x="2061" y="4518.8">280</text></g>
<g id="D3k9"><rect class="b" x="2054" y="4553" width="47" height="27.2"/><text class="t" x="2061" y="4570.8">低年级</text></g>
<g id="D3k10"><rect class="b" x="2054" y="4604" width="47" height="27.2"/><text class="t" x="2061" y="4621.8">中年级</text></g>
<g id="D3k11"><rect class="b" x="2054" y="4654" width="47" height="27.2"/><text class="t" x="2061" y="4671.8">高年级</text></g>

<g id="E0"><rect class="m" x="1406" y="5675" width="247" height="54"/><text class="tm"><tspan x="1414" y="5696.3">北师版六年级数学上册教案最新文</tspan><tspan x="1414" y="5716.3">案4</tspan></text></g>
<g id="E1"><rect class="b" x="1673" y="4713" width="69" height="27.2"/><text class="t" x="1680" y="4730.8">教学目的:</text></g>
<g id="E1a"><rect class="b" x="1764" y="4706" width="244" height="42"/><text class="t"><tspan x="1771" y="4723.8">使学生认识圆锥，掌握圆锥的特征，会看圆锥</tspan><tspan x="1771" y="4738.6">的平面图。</tspan></text></g>
<g id="E2"><rect class="b" x="1673" y="4795" width="69" height="27.2"/><text class="t" x="1680" y="4812.8">教具准备:</text></g>
<g id="E2a"><rect class="b" x="1764" y="4773" width="244" height="71.6"/><text class="t"><tspan x="1771" y="4790.8">要求每个学生用教科书图样做一个圆锥的模型</tspan><tspan x="1771" y="4805.6">，并让学生收集一些圆锥形的实物，教师准备</tspan><tspan x="1771" y="4820.4">一个圆锥形物体，一块平板(或玻璃)，一把直</tspan><tspan x="1771" y="4835.2">尺。</tspan></text></g>
<g id="E3"><rect class="b" x="1673" y="5449" width="69" height="27.2"/><text class="t" x="1680" y="5466.8">教学过程:</text></g>
<g id="E3a"><rect class="b" x="1764" y="4894" width="58" height="27.2"/><text class="t" x="1771" y="4911.8">一、复习</text></g>
<g id="E3a1"><rect class="b" x="1844" y="4868" width="208" height="27.2"/><text class="t" x="1851" y="4885.8">1、提问：圆柱体积的计算公式是什么?</text></g>
<g id="E3a2"><rect class="b" x="1844" y="4919" width="128" height="27.2"/><text class="t" x="1851" y="4936.8">2、圆柱的特征是什么?</text></g>
<g id="E3b"><rect class="b" x="1764" y="4993" width="82" height="27.2"/><text class="t" x="1771" y="5010.8">二、导入新课</text></g>
<g id="E3b1"><rect class="b" x="1866" y="4971" width="243" height="71.6"/><text class="t"><tspan x="1873" y="4988.8">教师：我们已经学习了圆柱的有关知识。请大</tspan><tspan x="1873" y="5003.6">家拿出自己准备好的跟老师一样的物体，看一</tspan><tspan x="1873" y="5018.4">看，摸一摸，你们感觉它与圆柱有什么不一样</tspan><tspan x="1873" y="5033.2">?</tspan></text></g>
<g id="E3c"><rect class="b" x="1764" y="6006" width="60" height="27.2"/><text class="t" x="1771" y="6023.8">三、新课</text></g>
<g id="E3c1"><rect class="b" x="1844" y="5646" width="99" height="27.2"/><text class="t" x="1851" y="5663.8">1、圆锥的认识。</text></g>
<g id="E3c1a"><rect class="b" x="1964" y="5066" width="243" height="71.6"/><text class="t"><tspan x="1971" y="5083.8">让学生拿着圆锥模型观察和摆弄后，指定几名</tspan><tspan x="1971" y="5098.6">学生说出自己观察的结果。从而使学生认识到</tspan><tspan x="1971" y="5113.4">圆锥有一个曲面，一个顶点和一个面是圆，等</tspan><tspan x="1971" y="5128.2">等。</tspan></text></g>
<g id="E3c1b"><rect class="b" x="1964" y="5162" width="243" height="42"/><text class="t"><tspan x="1971" y="5179.8">教师指出：像这样的物体就叫做圆锥体，简称</tspan><tspan x="1971" y="5194.6">圆锥。这节课我们就来学习这种新的立体图形</tspan></text></g>
<g id="E3c1c"><rect class="b" x="1964" y="5229" width="93" height="27.2"/><text class="t" x="1971" y="5246.8">板书课题：圆锥</text></g>
<g id="E3c1d"><rect class="b" x="1964" y="5279" width="243" height="42"/><text class="t"><tspan x="1971" y="5296.8">教师：大家门才认识了圆锥形的物体，我们把</tspan><tspan x="1971" y="5311.6">这些物体画在投影片上。</tspan></text></g>
<g id="E3c1e"><rect class="b" x="1964" y="5346" width="161" height="27.2"/><text class="t" x="1971" y="5363.8">出示有圆锥形物体的投影片。</text></g>
<g id="E3c1f"><rect class="b" x="1964" y="5396" width="243" height="42"/><text class="t"><tspan x="1971" y="5413.8">教师：现在我们沿着这些圆锥形物体的轮廓画</tspan><tspan x="1971" y="5428.6">线，就可以得到这样的图形。</tspan></text></g>
<g id="E3c1g"><rect class="b" x="1964" y="5462" width="243" height="42"/><text class="t"><tspan x="1971" y="5479.8">随后教师抽拉投影片，演示得到圆锥形物体的</tspan><tspan x="1971" y="5494.6">轮廓线。</tspan></text></g>
<g id="E3c1h"><rect class="b" x="1964" y="5528" width="243" height="42"/><text class="t"><tspan x="1971" y="5545.8">然后指出：这样得到的图形就是圆锥体的几何</tspan><tspan x="1971" y="5560.6">图形。</tspan></text></g>
<g id="E3c1i"><rect class="b" x="1964" y="5594" width="243" height="42"/><text class="t"><tspan x="1971" y="5611.8">教师指出：圆锥有一个顶点，它的底面是一个</tspan><tspan x="1971" y="5626.6">圆。</tspan></text></g>
<g id="E3c1j"><rect class="b" x="1964" y="5660" width="219" height="27.2"/><text class="t" x="1971" y="5677.8">然后在图上标出顶点，底面及其圆心O。</text></g>
<g id="E3c1k"><rect class="b" x="1964" y="5712" width="243" height="42"/><text class="t"><tspan x="1971" y="5729.8">同时还要指出：我们所学的圆锥是直圆锥的简</tspan><tspan x="1971" y="5744.6">称。</tspan></text></g>
<g id="E3c1l"><rect class="b" x="1964" y="5778" width="243" height="56.8"/><text class="t"><tspan x="1971" y="5795.8">接着让学生用手摸一摸圆锥周围的面，使学生</tspan><tspan x="1971" y="5810.6">发现圆锥有一个曲面。由此指出：圆锥的这个</tspan><tspan x="1971" y="5825.4">曲面叫做侧面。(在图上标出侧面。)</tspan></text></g>
<g id="E3c1m"><rect class="b" x="1964" y="5858" width="243" height="56.8"/><text class="t"><tspan x="1971" y="5875.8">让学生看着圆锥形物体，指出：从圆锥的顶点</tspan><tspan x="1971" y="5890.6">到底面圆心的距离叫做高。然后在图上标出高</tspan><tspan x="1971" y="5905.4">。</tspan></text></g>
<g id="E3c1n"><rect class="b" x="1964" y="5940" width="243" height="42"/><text class="t"><tspan x="1971" y="5957.8">教师顺着母线的方向演示。问：这条线是圆锥</tspan><tspan x="1971" y="5972.6">的高吗?</tspan></text></g>
<g id="E3c1o"><rect class="b" x="1964" y="6006" width="243" height="42"/><text class="t"><tspan x="1971" y="6023.8">指名学生回答后，教师要指出：沿着曲面上的</tspan><tspan x="1971" y="6038.6">线都不是圆锥的高。</tspan></text></g>
<g id="E3c1p"><rect class="b" x="1964" y="6071" width="179" height="27.2"/><text class="t" x="1971" y="6088.8">教师：圆锥的高到底有多少条呢?</text></g>
<g id="E3c1q"><rect class="b" x="1964" y="6123" width="243" height="42"/><text class="t"><tspan x="1971" y="6140.8">引导学生根据高的定义，弄清楚由于圆锥只有</tspan><tspan x="1971" y="6155.6">一个顶点，所以圆锥只有一条高。</tspan></text></g>
<g id="E3c1r"><rect class="b" x="1964" y="6189" width="243" height="56.8"/><text class="t"><tspan x="1971" y="6206.8">然后让学生拿出自己的学具，同桌的两名同学</tspan><tspan x="1971" y="6221.6">相互指出圆锥的底面、侧面和顶点，注意提醒</tspan><tspan x="1971" y="6236.4">学生圆锥的高是不能摸到的。</tspan></text></g>
<g id="E3c2"><rect class="b" x="1844" y="6283" width="64" height="27.2"/><text class="t" x="1851" y="6300.8">2、小结。</text></g>
<g id="E3c2a"><rect class="b" x="1930" y="6270" width="242" height="56.8"/><text class="t"><tspan x="1937" y="6287.8">圆锥的特征(可以启发学生总结)，强调底面和</tspan><tspan x="1937" y="6302.6">高的特点，使学生弄清圆锥的特征是底面是圆</tspan><tspan x="1937" y="6317.4">，侧面是一个曲面，有一个顶点和一条高。</tspan></text></g>
<g id="E3c3"><rect class="b" x="1844" y="6365" width="110" height="27.2"/><text class="t" x="1851" y="6382.8">3、测量圆锥的高。</text></g>
<g id="E3c3a"><rect class="b" x="1976" y="6350" width="242" height="56.8"/><text class="t"><tspan x="1983" y="6367.8">教师：由于圆锥的高在它的内部，我们不能直</tspan><tspan x="1983" y="6382.6">接量出它的长度，这就需要借助一块平板来</tspan><tspan x="1983" y="6397.4">测量。</tspan></text></g>
<g id="E4"><rect class="b" x="1673" y="6662" width="162" height="27.2"/><text class="t" x="1680" y="6679.8">教师边演示边叙述测量过程:</text></g>
<g id="E4a"><rect class="b" x="1857" y="6432" width="132" height="27.2"/><text class="t" x="1864" y="6449.8">(1)先把圆锥的底面放平;</text></g>
<g id="E4b"><rect class="b" x="1857" y="6482" width="226" height="27.2"/><text class="t" x="1864" y="6499.8">(2)用一块平板水平地放在圆锥的顶点上面;</text></g>
<g id="E4c"><rect class="b" x="1857" y="6892" width="210" height="27.2"/><text class="t" x="1864" y="6909.8">(3)竖直地量出平板和底面之间的距离。</text></g>
<g id="E4c1"><rect class="b" x="2090" y="6532" width="242" height="56.8"/><text class="t"><tspan x="2097" y="6549.8">测量的时候一定要注意：(1)圆锥的底面和平</tspan><tspan x="2097" y="6564.6">板都要水平地放置;(2)读数时一定要读平板下</tspan><tspan x="2097" y="6579.4">沿与直尺交会处的数值。</tspan></text></g>
<g id="E4c2"><rect class="b" x="2090" y="6827" width="157" height="27.2"/><text class="t" x="2097" y="6844.8">4、教学圆锥侧面的展开图。</text></g>
<g id="E4c2a"><rect class="b" x="2267" y="6614" width="168" height="27.2"/><text class="t" x="2274" y="6631.8">教师：圆锥的侧面是哪一部分?</text></g>
<g id="E4c2b"><rect class="b" x="2267" y="6665" width="244" height="27.2"/><text class="t" x="2274" y="6682.8">教师展示圆锥模型，指名学生说出侧面部分。</text></g>
<g id="E4c2c"><rect class="b" x="2267" y="6717" width="244" height="42"/><text class="t"><tspan x="2274" y="6734.8">教师：我们已经学习过圆柱，哪位同学能说一</tspan><tspan x="2274" y="6749.6">说圆柱的侧面展开后是什么图形?</tspan></text></g>
<g id="E4c2d"><rect class="b" x="2267" y="6782" width="244" height="56.8"/><text class="t"><tspan x="2274" y="6799.8">学生回答出圆柱的侧面展开图是长方形后，教</tspan><tspan x="2274" y="6814.6">师设问：那么，请大家想一想，圆锥的侧面展</tspan><tspan x="2274" y="6829.4">开后会是什么图形呢?”</tspan></text></g>
<g id="E4c2e"><rect class="b" x="2267" y="6863" width="244" height="56.8"/><text class="t"><tspan x="2274" y="6880.8">留给学生短暂的思考讨论时间后，教师指出：</tspan><tspan x="2274" y="6895.6">下面我们通过实验来看看圆锥的侧面展开后是</tspan><tspan x="2274" y="6910.4">一个什么图形。</tspan></text></g>
<g id="E4c2f"><rect class="b" x="2267" y="6943" width="244" height="71.6"/><text class="t"><tspan x="2274" y="6960.8">然后教师指导学生把圆锥模型的侧面展开，使</tspan><tspan x="2274" y="6975.6">学生看到圆锥的侧面展开后是一个扇形。展开</tspan><tspan x="2274" y="6990.4">后还可以再把它合拢，恢复原状，使学生加深</tspan><tspan x="2274" y="7005.2">对圆锥侧面的认识。</tspan></text></g>
<g id="E4c2g"><rect class="b" x="2267" y="7041" width="82" height="27.2"/><text class="t" x="2274" y="7058.8">四、课堂练习</text></g>
<g id="E4c3"><rect class="b" x="2090" y="7106" width="133" height="27.2"/><text class="t" x="2097" y="7123.8">1、做“做一做”的题目。</text></g>
<g id="E4c3a"><rect class="b" x="2243" y="7091" width="243" height="56.8"/><text class="t"><tspan x="2250" y="7108.8">让学生拿出课前准备好的模型纸样.先做成圆</tspan><tspan x="2250" y="7123.6">锥，然后让学生试着独立量出它的底面直径.</tspan><tspan x="2250" y="7138.4">教师行间巡视，对有困难的学生及时辅导。</tspan></text></g>
<g id="E4c4"><rect class="b" x="2090" y="7179" width="128" height="27.2"/><text class="t" x="2097" y="7196.8">2、做练习九的第1题。</text></g>
<g id="E4c4a"><rect class="b" x="2240" y="7172" width="242" height="42"/><text class="t"><tspan x="2247" y="7189.8">让学生自由地想，只要是接近于圆锥的都可以</tspan><tspan x="2247" y="7204.6">视为是圆锥。</tspan></text></g>
<g id="E4c5"><rect class="b" x="2090" y="7238" width="128" height="27.2"/><text class="t" x="2097" y="7255.8">3、做练习九的第2题。</text></g>
</g>
</svg>
